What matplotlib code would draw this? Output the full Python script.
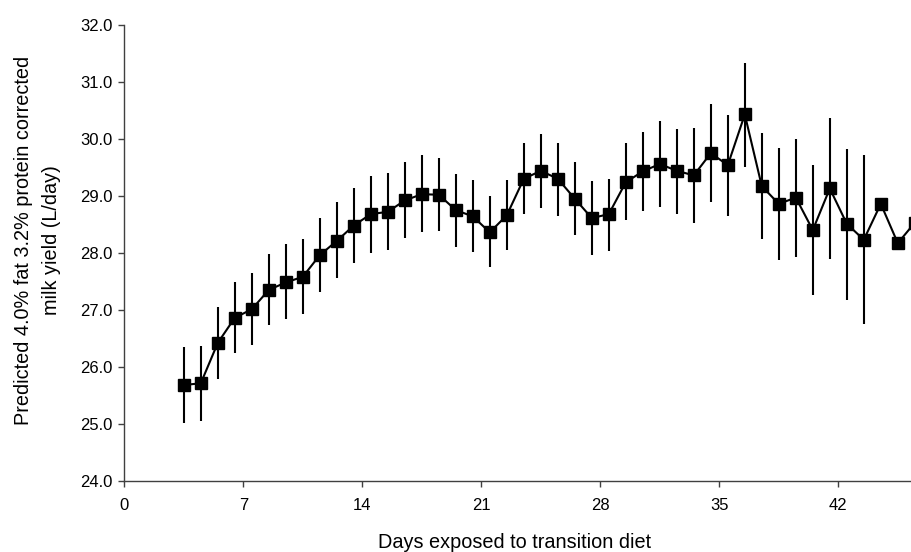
import numpy as np
import matplotlib
matplotlib.use('Agg')
import matplotlib.pyplot as plt

plt.rcParams['font.family'] = ['Liberation Sans', 'DejaVu Sans']

# Data (day midpoints, predicted yield and interval bounds)
days = [3.5, 4.5, 5.5, 6.5, 7.5, 8.5, 9.5, 10.5, 11.5, 12.5, 13.5, 14.5,
        15.5, 16.5, 17.5, 18.5, 19.5, 20.5, 21.5, 22.5, 23.5, 24.5, 25.5,
        26.5, 27.5, 28.5, 29.5, 30.5, 31.5, 32.5, 33.5, 34.5, 35.5, 36.5,
        37.5, 38.5, 39.5, 40.5, 41.5, 42.5, 43.5, 44.5, 45.5, 46.5]
yield_mean = [25.68, 25.71, 26.42, 26.86, 27.01, 27.35, 27.48, 27.58, 27.96,
              28.21, 28.48, 28.68, 28.72, 28.92, 29.03, 29.02, 28.75, 28.64,
              28.36, 28.66, 29.30, 29.44, 29.30, 28.95, 28.61, 28.68, 29.24,
              29.43, 29.56, 29.44, 29.36, 29.75, 29.54, 30.43, 29.17, 28.86,
              28.97, 28.40, 29.13, 28.51, 28.23, 28.86, 28.17, 28.53]
yield_lower = [25.02, 25.05, 25.79, 26.24, 26.38, 26.73, 26.84, 26.93, 27.31,
               27.55, 27.83, 27.99, 28.05, 28.26, 28.36, 28.38, 28.10, 28.01,
               27.76, 28.05, 28.68, 28.78, 28.65, 28.31, 27.97, 28.04, 28.58,
               28.73, 28.80, 28.69, 28.53, 28.89, 28.65, 29.51, 28.24, 27.87,
               27.93, 27.26, 27.90, 27.18, 26.75, np.nan, np.nan, np.nan]
yield_upper = [26.34, 26.37, 27.05, 27.48, 27.64, 27.98, 28.15, 28.25, 28.62,
               28.89, 29.14, 29.35, 29.40, 29.59, 29.71, 29.66, 29.38, 29.28,
               28.99, 29.28, 29.92, 30.09, 29.92, 29.60, 29.26, 29.30, 29.92,
               30.13, 30.31, 30.17, 30.19, 30.61, 30.42, 31.34, 30.11, 29.84,
               30.00, 29.54, 30.36, 29.83, 29.71, np.nan, np.nan, np.nan]
x_ticks = [0, 7, 14, 21, 28, 35, 42]
y_ticks = [24, 25, 26, 27, 28, 29, 30, 31, 32]

W, H = 912, 552
fig = plt.figure(figsize=(W / 100, H / 100), dpi=100)

# plot area: x=0 at 124 px, 17 px per day; continues past the right edge
left, bottom, top = 124.3, 552 - 480.7, 25.0
ax = fig.add_axes([left / W, bottom / H, 17.0 * 49 / W, (552 - top - bottom) / H])

# interval bars first, then the connected square markers on top
ax.vlines(days, yield_lower, yield_upper, color='black', linewidth=1.5, zorder=2)
ax.plot(days, yield_mean, color='black', linewidth=1.5, marker='s',
        markersize=9, markerfacecolor='black', markeredgecolor='black',
        clip_on=False, zorder=3)

ax.set_xlim(0, 49)
ax.set_ylim(24, 32)
ax.set_xticks(x_ticks)
ax.set_yticks(y_ticks)
ax.set_yticklabels([f'{v:.1f}' for v in y_ticks])

for side in ['top', 'right']:
    ax.spines[side].set_visible(False)
for side in ['left', 'bottom']:
    ax.spines[side].set_color('#404040')
    ax.spines[side].set_linewidth(1.0)
ax.tick_params(direction='out', length=4.5, width=1.0, color='#404040',
               labelsize=12, labelcolor='black')
ax.tick_params(axis='y', pad=4)
ax.tick_params(axis='x', pad=8)

fig.text(38 / W, 1 - 240 / H,
         'Predicted 4.0% fat 3.2% protein corrected\nmilk yield (L/day)',
         rotation=90, ha='center', va='center', fontsize=14.3,
         multialignment='center', linespacing=1.6)
fig.text(378 / W, 1 - 547.5 / H, 'Days exposed to transition diet',
         ha='left', va='baseline', fontsize=14.3)

fig.savefig('out.png', dpi=100)
